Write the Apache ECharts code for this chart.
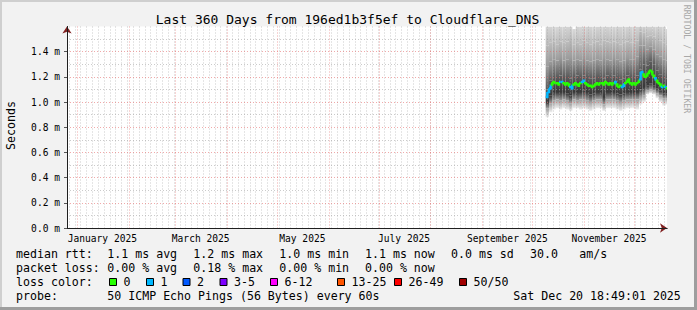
<!DOCTYPE html>
<html><head><meta charset="utf-8">
<script src="https://cdn.jsdelivr.net/npm/echarts@6/dist/echarts.min.js"></script>
<style>html,body{margin:0;padding:0;background:#f2f2f2}#c{width:697px;height:310px}</style>
</head><body><div id="c"></div>
<script>
// ---------------- DATA ----------------
const titleText = 'Last 360 Days from 196ed1b3f5ef to Cloudflare_DNS';
const rangeStart = '2024-12-25T18:49:01Z';
const rangeEnd = '2025-12-20T18:49:01Z';
const monthLines = ['2025-01-01','2025-02-01','2025-03-01','2025-04-01','2025-05-01','2025-06-01','2025-07-01','2025-08-01','2025-09-01','2025-10-01','2025-11-01','2025-12-01'];
const xLabelMonths = ['2025-01-01','2025-03-01','2025-05-01','2025-07-01','2025-09-01','2025-11-01'];
const xLabelText = ['January 2025','March 2025','May 2025','July 2025','September 2025','November 2025'];
const minorGridStart = '2024-12-27';
const minorGridStepDays = 3.5;
const yTicks = [0, 0.2, 0.4, 0.6, 0.8, 1.0, 1.2, 1.4];
const yMinor = [0.1, 0.3, 0.5, 0.7, 0.9, 1.1, 1.3, 1.5];
const yMax = 1.6;

// median rtt (ms), one value per day from medianStart
const medianStart = '2025-10-09';
const medianRtt = [1.04,1.08,1.11,1.14,1.16,1.15,1.15,1.14,1.16,1.16,
                   1.15,1.14,1.15,1.14,1.12,1.11,1.14,1.15,1.14,1.13,
                   1.15,1.16,1.17,1.15,1.14,1.13,1.13,1.12,1.13,1.14,
                   1.15,1.14,1.15,1.15,1.14,1.16,1.15,1.14,1.15,1.14,
                   1.15,1.16,1.14,1.12,1.13,1.12,1.13,1.15,1.16,1.18,
                   1.15,1.14,1.15,1.14,1.15,1.16,1.18,1.24,1.22,1.20,
                   1.21,1.23,1.25,1.24,1.21,1.19,1.17,1.15,1.14,1.12,
                   1.13,1.12,1.11];
// lost pings per day (of 50)
const medianLoss = [1,1,1,0,0,0,0,0,1,1,
                    0,0,0,0,1,1,0,0,0,0,
                    0,1,1,0,0,0,0,0,0,0,
                    0,0,0,0,0,0,0,0,0,0,
                    0,1,0,0,0,1,1,0,0,0,
                    0,0,0,0,0,0,1,1,0,0,
                    0,0,0,0,0,1,0,0,0,1,
                    0,1,0];

// smoke: ping distribution bounds (ms), one column every 2 days from smokeStart
const smokeStart = '2025-10-09';
const smokeStepDays = 2;
const smokeMin = [0.88,0.92,0.94,0.95,0.94,0.95,0.94,0.93,0.95,0.95,0.94,0.95,0.94,0.93,0.94,0.95,0.95,0.93,0.95,0.95,0.95,0.94,0.93,0.94,0.95,0.95,0.95,0.94,0.98,1.00,1.06,1.07,1.06,1.03,1.00,0.97,0.98];
const smokeQ1  = [0.95,0.99,1.01,1.02,1.01,1.02,1.01,0.99,1.02,1.01,1.02,1.02,1.01,1.00,1.01,1.02,1.02,0.98,1.02,1.02,1.02,1.01,1.00,1.01,1.02,1.02,1.02,1.02,1.04,1.05,1.09,1.10,1.09,1.07,1.05,1.03,1.03];
const smokeQ2  = [1.00,1.05,1.08,1.08,1.08,1.08,1.07,1.05,1.08,1.08,1.08,1.09,1.08,1.06,1.07,1.08,1.08,1.04,1.08,1.08,1.08,1.07,1.06,1.07,1.08,1.08,1.08,1.08,1.10,1.12,1.13,1.15,1.13,1.11,1.09,1.07,1.07];
const smokeQ3  = [1.10,1.17,1.20,1.20,1.21,1.20,1.20,1.19,1.20,1.21,1.20,1.21,1.20,1.19,1.19,1.20,1.20,1.19,1.21,1.20,1.21,1.20,1.18,1.19,1.21,1.20,1.20,1.21,1.26,1.30,1.29,1.32,1.30,1.25,1.22,1.20,1.19];
const smokeQ4  = [1.28,1.32,1.34,1.33,1.35,1.33,1.34,1.35,1.33,1.34,1.33,1.35,1.33,1.32,1.33,1.34,1.33,1.35,1.34,1.33,1.35,1.34,1.32,1.33,1.35,1.34,1.34,1.36,1.45,1.45,1.42,1.44,1.42,1.38,1.36,1.34,1.33];
const smokeQ5  = [1.45,1.47,1.48,1.46,1.48,1.47,1.48,1.50,1.46,1.47,1.46,1.49,1.47,1.46,1.47,1.48,1.46,1.49,1.48,1.47,1.48,1.47,1.46,1.47,1.48,1.47,1.47,1.49,1.56,1.55,1.52,1.53,1.52,1.50,1.49,1.47,1.46];
const smokeMax = [1.62,1.62,1.62,1.60,1.62,1.62,1.62,1.62,1.58,1.62,1.60,1.62,1.62,1.62,1.61,1.62,1.62,1.62,1.62,1.60,1.62,1.62,1.62,1.62,1.62,1.62,1.62,1.62,1.62,1.62,1.62,1.62,1.62,1.62,1.62,1.62,1.58];

// legend
const lossLabels = ['0','1','2','3-5','6-12','13-25','26-49','50/50'];
const lossColors = ['#26ff00','#00b8ff','#0059ff','#7e00ff','#ff00ff','#ff5500','#ff0000','#a10000'];
const lossUpper  = [0, 1, 2, 5, 12, 25, 49, 50];
const rttRow  = ['median rtt:', '1.1 ms avg', '1.2 ms max', '1.0 ms min', '1.1 ms now', '0.0 ms sd', '30.0', 'am/s'];
const lossRow = ['packet loss:', '0.00 % avg', '0.18 % max', '0.00 % min', '0.00 % now'];
const probeRow = ['probe:', '50 ICMP Echo Pings (56 Bytes) every 60s', 'Sat Dec 20 18:49:01 2025'];
const lossRowLabel = 'loss color:';
const watermark = 'RRDTOOL / TOBI OETIKER';
const yName = 'Seconds';

// ---------------- BUILD ----------------
const DAY = 86400000;
const xMin = Date.parse(rangeStart), xMax = Date.parse(rangeEnd);
const monthVals = monthLines.map(d => Date.parse(d + 'T00:00:00Z'));
const labelVals = xLabelMonths.map(d => Date.parse(d + 'T00:00:00Z') + 15 * DAY);
const minorVals = [];
for (let t = Date.parse(minorGridStart + 'T00:00:00Z'); t < xMax; t += minorGridStepDays * DAY) minorVals.push(t);

const mStart = Date.parse(medianStart + 'T00:00:00Z');
const medianData = medianRtt.map((v, i) => [mStart + i * DAY, v, medianLoss[i]]);
const sStart = Date.parse(smokeStart + 'T00:00:00Z');
const smokeData = smokeMin.map((v, i) => [sStart + i * smokeStepDays * DAY, v, smokeQ1[i], smokeQ2[i], smokeQ3[i], smokeQ4[i], smokeQ5[i], smokeMax[i]]);
// shade at each bound: min, q1, q2, q3, q4, q5, max
const boundShades = ['#efefef', '#a0a0a0', '#383838', '#5c5c5c', '#9a9a9a', '#bcbcbc', '#d8d8d8'];

function lossColor(n) {
  for (let i = 0; i < lossUpper.length; i++) if (n <= lossUpper[i]) return lossColors[i];
  return lossColors[lossColors.length - 1];
}

const MONO = '"DejaVu Sans Mono", monospace';
const chart = echarts.init(document.getElementById('c'), null, {renderer: 'svg', width: 697, height: 310});

const gridMinor = {color: 'rgba(160,160,160,0.55)', width: 1, type: [1, 2]};
const gridMajor = {color: 'rgba(230,100,100,0.55)', width: 1, type: [1, 2]};

function txt(x, y, text, opt) {
  opt = opt || {};
  return {type: 'text', x: x, y: y, z: 100, rotation: opt.rot || 0,
    style: {text: text, font: (opt.size || 11.6) + 'px ' + MONO, fill: opt.fill || '#000',
      align: opt.align || 'left', verticalAlign: 'middle', textAlign: opt.align || 'left', textVerticalAlign: 'middle'}};
}

const graphics = [];
graphics.push({type: 'rect', shape: {x: 0, y: 0, width: 697, height: 2}, style: {fill: '#cfcfcf'}, z: 100});
graphics.push({type: 'rect', shape: {x: 0, y: 0, width: 2, height: 310}, style: {fill: '#cfcfcf'}, z: 100});
graphics.push({type: 'rect', shape: {x: 0, y: 307, width: 697, height: 3}, style: {fill: '#9e9e9e'}, z: 100});
graphics.push({type: 'rect', shape: {x: 694, y: 0, width: 3, height: 310}, style: {fill: '#9e9e9e'}, z: 100});
graphics.push(txt(347.5, 19.5, titleText, {size: 13, align: 'center'}));
graphics.push(txt(11, 125.5, yName, {size: 11.6, align: 'center', rot: Math.PI / 2}));
graphics.push(txt(687, 59, watermark, {size: 8.2, align: 'center', rot: -Math.PI / 2, fill: '#a8a8a8'}));
const colX = [16, 107.3, 193.3, 279.3, 365, 451, 530, 579.3];
rttRow.forEach((s, i) => graphics.push(txt(colX[i], 254.3, s)));
lossRow.forEach((s, i) => graphics.push(txt(colX[i], 268, s)));
graphics.push(txt(16, 282.3, lossRowLabel));
const boxX = [109, 146, 182.5, 219.5, 270, 337, 394, 459];
lossLabels.forEach((s, i) => {
  graphics.push({type: 'rect', z: 100, shape: {x: boxX[i] + 0.5, y: 278.5, width: 7, height: 7}, style: {fill: lossColors[i], stroke: '#000', lineWidth: 1}});
  graphics.push(txt(boxX[i] + 14.5, 282.3, s));
});
graphics.push(txt(16, 295.7, probeRow[0]));
graphics.push(txt(107.3, 295.7, probeRow[1]));
graphics.push(txt(513.3, 295.7, probeRow[2]));

const option = {
  backgroundColor: '#f2f2f2',
  animation: false,
  grid: {left: 67, top: 26.5, width: 600, height: 201.5, show: true, backgroundColor: '#ffffff', borderWidth: 0},
  xAxis: [
    {type: 'value', position: 'bottom', min: xMin, max: xMax, z: 10,
      axisLine: {show: true, onZero: false, lineStyle: {color: '#801f1f', width: 1}, symbol: ['none', 'arrow'], symbolSize: [7, 7]},
      axisTick: {show: false, customValues: minorVals}, axisLabel: {show: false},
      splitLine: {show: true, lineStyle: gridMinor}},
    {type: 'value', position: 'bottom', min: xMin, max: xMax, z: 11,
      axisLine: {show: true, onZero: false, lineStyle: {color: '#1f1f1f', width: 1}},
      axisTick: {show: false, customValues: monthVals},
      axisLabel: {show: true, customValues: labelVals, margin: 5, color: '#000', fontFamily: MONO, fontSize: 9.6,
        formatter: v => { const i = labelVals.indexOf(v); return i >= 0 ? xLabelText[i] : ''; }},
      splitLine: {show: true, lineStyle: gridMajor}}
  ],
  yAxis: [
    {type: 'value', position: 'left', min: 0, max: yMax, z: 10,
      axisLine: {show: true, onZero: false, lineStyle: {color: '#801f1f', width: 1}, symbol: ['none', 'arrow'], symbolSize: [7, 7]},
      axisTick: {show: false, customValues: yMinor}, axisLabel: {show: false},
      splitLine: {show: true, lineStyle: gridMinor}},
    {type: 'value', position: 'left', min: 0, max: yMax, z: 11,
      axisLine: {show: true, onZero: false, lineStyle: {color: '#1f1f1f', width: 1}},
      axisTick: {show: true, customValues: yTicks, length: 3, lineStyle: {color: '#555'}},
      axisLabel: {show: true, customValues: yTicks, margin: 7, color: '#000', fontFamily: MONO, fontSize: 9.6,
        formatter: v => v.toFixed(1) + ' m'},
      splitLine: {show: true, lineStyle: gridMajor}}
  ],
  series: [
    {type: 'custom', name: 'smoke', xAxisIndex: 1, yAxisIndex: 1, z: 2, clip: true, silent: true,
      data: smokeData,
      renderItem: function (params, api) {
        const cs = params.coordSys;
        const t = api.value(0);
        let x0 = api.coord([t, 0])[0];
        let x1 = api.coord([t + smokeStepDays * DAY, 0])[0];
        x0 = Math.max(x0, cs.x); x1 = Math.min(x1, cs.x + cs.width);
        const children = [];
        for (let b = 0; b < 6; b++) {
          const yLo = api.coord([t, api.value(1 + b)])[1];
          const yHiRaw = api.coord([t, api.value(2 + b)])[1];
          const yHi = Math.max(yHiRaw, cs.y);
          if (yLo <= yHi) continue;
          const full = yLo - yHiRaw;
          const startOff = (yHi - yHiRaw) / full;
          const topColor = echarts.color.lerp(startOff, [boundShades[b + 1], boundShades[b]]);
          children.push({type: 'rect', shape: {x: x0, y: yHi, width: x1 - x0, height: yLo - yHi},
            style: {fill: new echarts.graphic.LinearGradient(0, 0, 0, 1, [
              {offset: 0, color: topColor}, {offset: 1, color: boundShades[b]}])}});
        }
        return {type: 'group', children: children};
      }},
    {type: 'custom', name: 'median rtt', xAxisIndex: 1, yAxisIndex: 1, z: 20, clip: true, silent: true,
      data: medianData,
      renderItem: function (params, api) {
        const i = params.dataIndex;
        const t = api.value(0), v = api.value(1);
        const p0 = api.coord([t, v]);
        const p1 = api.coord([t + DAY, v]);
        const pts = [p0, p1];
        if (i + 1 < medianData.length) pts.push(api.coord([t + DAY, medianData[i + 1][1]]));
        return {type: 'polyline', shape: {points: pts}, style: {stroke: lossColor(api.value(2)), lineWidth: 2.4, fill: null}};
      }}
  ],
  graphic: {elements: graphics}
};
chart.setOption(option);
</script>
</body></html>
